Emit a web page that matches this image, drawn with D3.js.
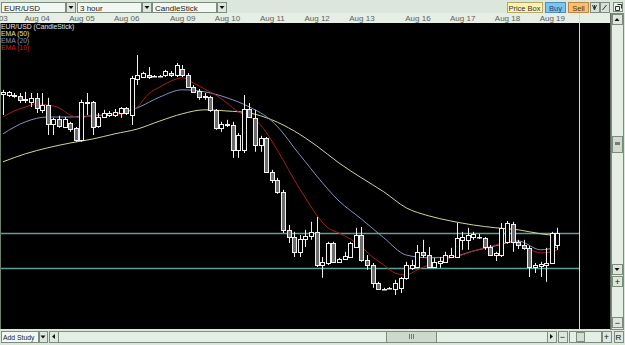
<!DOCTYPE html>
<html>
<head>
<meta charset="utf-8">
<script src="https://cdn.jsdelivr.net/npm/d3@7"></script>
<style>
  body { margin: 0; background: #dce7dc; }
  svg { display: block; font-family: "Liberation Sans", Arial, sans-serif; }
</style>
</head>
<body>
<div id="chart"></div>
<script>
// Day labels and the bar index where each day starts (3 hour bars)
const dayLabels = ['Aug 03', 'Aug 04', 'Aug 05', 'Aug 06', 'Aug 09', 'Aug 10', 'Aug 11', 'Aug 12', 'Aug 13', 'Aug 16', 'Aug 17', 'Aug 18', 'Aug 19'];
const dayStart = [-1.5, 6, 14, 22, 32, 40, 48, 56, 64, 74, 82, 90, 98];

// EUR/USD candles
const candleOpen = [
  1.3248, 1.3245, 1.3245, 1.3243, 1.3233, 1.3228, 1.3238, 1.3208, 1.3220, 1.3173,
  1.3185, 1.3165, 1.3175, 1.3163, 1.3133, 1.3228, 1.3228, 1.3168, 1.3190, 1.3195,
  1.3195, 1.3200, 1.3213, 1.3195, 1.3285, 1.3290, 1.3295, 1.3293, 1.3293, 1.3295,
  1.3300, 1.3295, 1.3310, 1.3295, 1.3265, 1.3255, 1.3243, 1.3240, 1.3208, 1.3163,
  1.3173, 1.3170, 1.3108, 1.3108, 1.3210, 1.3188, 1.3120, 1.3138, 1.3053, 1.3033,
  1.3003, 1.2908, 1.2890, 1.2853, 1.2885, 1.2893, 1.2903, 1.2820, 1.2825, 1.2875,
  1.2828, 1.2835, 1.2840, 1.2865, 1.2895, 1.2833, 1.2820, 1.2775, 1.2760, 1.2763,
  1.2760, 1.2763, 1.2788, 1.2813, 1.2815, 1.2853, 1.2845, 1.2815, 1.2825, 1.2828,
  1.2840, 1.2840, 1.2883, 1.2883, 1.2890, 1.2890, 1.2888, 1.2865, 1.2845, 1.2845,
  1.2878, 1.2923, 1.2878, 1.2870, 1.2863, 1.2815, 1.2818, 1.2820, 1.2825, 1.2870
];
const candleHigh = [
  1.3258, 1.3255, 1.3250, 1.3250, 1.3253, 1.3250, 1.3250, 1.3250, 1.3238, 1.3188,
  1.3193, 1.3190, 1.3178, 1.3165, 1.3233, 1.3250, 1.3230, 1.3200, 1.3208, 1.3205,
  1.3210, 1.3215, 1.3215, 1.3293, 1.3345, 1.3303, 1.3315, 1.3295, 1.3295, 1.3308,
  1.3305, 1.3325, 1.3320, 1.3300, 1.3270, 1.3260, 1.3250, 1.3243, 1.3210, 1.3178,
  1.3183, 1.3178, 1.3150, 1.3245, 1.3225, 1.3208, 1.3143, 1.3140, 1.3058, 1.3038,
  1.3008, 1.2920, 1.2903, 1.2895, 1.2908, 1.2928, 1.2940, 1.2840, 1.2878, 1.2878,
  1.2838, 1.2853, 1.2878, 1.2913, 1.2915, 1.2845, 1.2825, 1.2778, 1.2763, 1.2765,
  1.2783, 1.2790, 1.2828, 1.2833, 1.2870, 1.2883, 1.2865, 1.2838, 1.2840, 1.2853,
  1.2863, 1.2925, 1.2903, 1.2913, 1.2903, 1.2898, 1.2890, 1.2870, 1.2853, 1.2925,
  1.2930, 1.2928, 1.2883, 1.2883, 1.2868, 1.2825, 1.2828, 1.2863, 1.2903, 1.2913
];
const candleLow = [
  1.3195, 1.3240, 1.3238, 1.3225, 1.3225, 1.3215, 1.3200, 1.3200, 1.3145, 1.3145,
  1.3163, 1.3163, 1.3153, 1.3128, 1.3128, 1.3195, 1.3145, 1.3163, 1.3188, 1.3190,
  1.3190, 1.3188, 1.3195, 1.3170, 1.3270, 1.3288, 1.3285, 1.3290, 1.3290, 1.3290,
  1.3290, 1.3290, 1.3290, 1.3263, 1.3250, 1.3233, 1.3233, 1.3203, 1.3158, 1.3153,
  1.3165, 1.3088, 1.3088, 1.3100, 1.3188, 1.3103, 1.3103, 1.3050, 1.3025, 1.2998,
  1.2900, 1.2875, 1.2840, 1.2840, 1.2865, 1.2883, 1.2815, 1.2788, 1.2820, 1.2825,
  1.2825, 1.2833, 1.2838, 1.2863, 1.2828, 1.2808, 1.2763, 1.2758, 1.2758, 1.2760,
  1.2745, 1.2750, 1.2783, 1.2808, 1.2813, 1.2838, 1.2813, 1.2813, 1.2813, 1.2825,
  1.2838, 1.2838, 1.2858, 1.2858, 1.2883, 1.2885, 1.2858, 1.2843, 1.2830, 1.2840,
  1.2873, 1.2853, 1.2860, 1.2858, 1.2790, 1.2800, 1.2790, 1.2778, 1.2823, 1.2858
];
const candleClose = [
  1.3253, 1.3253, 1.3243, 1.3233, 1.3235, 1.3238, 1.3213, 1.3220, 1.3173, 1.3185,
  1.3168, 1.3185, 1.3160, 1.3133, 1.3228, 1.3225, 1.3165, 1.3190, 1.3200, 1.3200,
  1.3203, 1.3213, 1.3200, 1.3288, 1.3295, 1.3300, 1.3290, 1.3293, 1.3293, 1.3305,
  1.3295, 1.3320, 1.3295, 1.3265, 1.3253, 1.3240, 1.3240, 1.3208, 1.3163, 1.3173,
  1.3170, 1.3108, 1.3145, 1.3210, 1.3190, 1.3120, 1.3138, 1.3053, 1.3033, 1.3003,
  1.2908, 1.2890, 1.2853, 1.2885, 1.2893, 1.2903, 1.2820, 1.2828, 1.2875, 1.2828,
  1.2835, 1.2843, 1.2875, 1.2895, 1.2833, 1.2820, 1.2775, 1.2760, 1.2760, 1.2763,
  1.2775, 1.2788, 1.2820, 1.2820, 1.2853, 1.2845, 1.2815, 1.2828, 1.2830, 1.2845,
  1.2845, 1.2888, 1.2890, 1.2895, 1.2898, 1.2890, 1.2865, 1.2845, 1.2850, 1.2913,
  1.2925, 1.2878, 1.2870, 1.2863, 1.2815, 1.2820, 1.2823, 1.2825, 1.2900, 1.2900
];

// Moving averages as drawn on the chart (bar index + value)
const ema50Bar = [0, 4, 8, 12, 16, 20, 24, 28, 32, 36, 40, 44, 48, 52, 56, 60, 64, 68, 72, 76, 80, 84, 88, 92, 96, 99];
const ema50 = [1.3078, 1.3098, 1.3113, 1.3125, 1.3135, 1.3148, 1.3160, 1.3180, 1.3198, 1.3208, 1.3205, 1.3200, 1.3183,
  1.3155, 1.3118, 1.3075, 1.3038, 1.3003, 1.2963, 1.2943, 1.2930, 1.2920, 1.2913, 1.2908, 1.2898, 1.2893];

const ema20Bar = [0, 4, 8, 12, 16, 20, 24, 28, 32, 36, 40, 44, 48, 50, 52, 54, 56, 60, 64, 68, 72, 76, 80, 84, 88, 92, 96, 99];
const ema20 = [1.3148, 1.3178, 1.3190, 1.3190, 1.3193, 1.3198, 1.3213, 1.3240, 1.3258, 1.3253, 1.3238, 1.3215, 1.3180, 1.3150,
  1.3113, 1.3078, 1.3043, 1.2980, 1.2935, 1.2888, 1.2845, 1.2838, 1.2840, 1.2855, 1.2868, 1.2880, 1.2858, 1.2865];

const ema10Bar = [0, 2, 4, 6, 8, 10, 12, 14, 16, 18, 20, 22, 24, 26, 28, 30, 32, 34, 36, 38, 40, 42, 44, 46, 48, 50,
  52, 54, 56, 58, 60, 62, 64, 66, 68, 70, 72, 74, 76, 78, 80, 82, 84, 86, 88, 90, 92, 94, 96, 98, 99];
const ema10 = [1.3190, 1.3205, 1.3215, 1.3223, 1.3220, 1.3213, 1.3195, 1.3188, 1.3195, 1.3195, 1.3195, 1.3200, 1.3215,
  1.3248, 1.3265, 1.3280, 1.3288, 1.3275, 1.3260, 1.3245, 1.3225, 1.3203, 1.3190, 1.3170, 1.3130, 1.3083, 1.3033,
  1.2988, 1.2945, 1.2913, 1.2900, 1.2885, 1.2865, 1.2840, 1.2820, 1.2800, 1.2795, 1.2808, 1.2820, 1.2828, 1.2838,
  1.2845, 1.2855, 1.2863, 1.2870, 1.2878, 1.2873, 1.2860, 1.2850, 1.2853, 1.2858];

// Horizontal levels drawn by the user
const levels = [1.2900, 1.2813];

const legendItems = ['EUR/USD (CandleStick)', 'EMA (50)', 'EMA (20)', 'EMA (10)'];
const legendColors = ['#e4e4e4', '#e6e2a0', '#8296c8', '#c42424'];


class CandleChart {

  constructor(_config, _data) {
    this.config = {
      parentElement: _config.parentElement,
      containerWidth: _config.containerWidth || 625,
      containerHeight: _config.containerHeight || 345,
      plotRight: 579,
      plotTop: 23,
      plotBottom: 329
    };
    this.data = _data;
    this.initVis();
  }

  initVis() {
    let vis = this;

    vis.svg = d3.select(vis.config.parentElement).append('svg')
        .attr('width', vis.config.containerWidth)
        .attr('height', vis.config.containerHeight);

    // Bars are evenly spaced, one per 3 hours, weekends collapsed
    vis.xScale = d3.scaleLinear().domain([0, 99]).range([3, 557.4]);
    vis.yScale = d3.scaleLinear().domain([1.2900, 1.3400]).range([233, 33]);

    vis.drawChrome();
    vis.renderVis();
  }

  drawChrome() {
    let vis = this;
    const svg = vis.svg;
    const stroke = '#7d8d7d';

    svg.append('rect').attr('width', 625).attr('height', 345).attr('fill', '#dce7dc');
    svg.append('rect').attr('x', 0).attr('y', 13).attr('width', 611).attr('height', 10).attr('fill', '#e6eee6');
    svg.append('rect').attr('x', 0).attr('y', vis.config.plotTop).attr('width', 611)
        .attr('height', vis.config.plotBottom - vis.config.plotTop).attr('fill', '#000');
    svg.append('line').attr('x1', 0.5).attr('x2', 0.5).attr('y1', 23).attr('y2', 329).attr('stroke', '#6f7f6f');
    svg.append('line').attr('x1', 610.5).attr('x2', 610.5).attr('y1', 13).attr('y2', 330).attr('stroke', '#5f6f5f');

    const btn = (x, y, w, h, fill, lineColor) => svg.append('rect')
        .attr('x', x + 0.5).attr('y', y + 0.5).attr('width', w).attr('height', h)
        .attr('fill', fill).attr('stroke', lineColor || stroke);
    const label = (x, y, txt, size, color, anchor) => svg.append('text')
        .attr('x', x).attr('y', y).attr('font-size', size || 8).attr('fill', color || '#222')
        .attr('text-anchor', anchor || 'start').text(txt);
    const down = (x, y) => svg.append('path').attr('d', `M${x},${y}h5l-2.5,3z`).attr('fill', '#111');

    // Top toolbar: dropdowns
    [[1, 64, 'EUR/USD'], [77, 64, '3 hour'], [152, 64, 'CandleStick']].forEach(d => {
      btn(d[0], 2, d[1], 10, '#f3f7f3');
      label(d[0] + 3, 10.5, d[2]);
      btn(d[0] + d[1] + 1, 2, 9, 10, '#dde6dd');
      down(d[0] + d[1] + 3.5, 6);
    });

    // Top toolbar: trade buttons
    btn(507, 2, 35, 10, '#fcf3b0', '#b4aa66');
    label(524.5, 10.5, 'Price Box', 7.5, '#333', 'middle');
    btn(545, 2, 20, 10, '#7cc3ee', '#4b8fbf');
    label(555.5, 10.5, 'Buy', 7.5, '#24436a', 'middle');
    btn(568, 2, 20, 10, '#fbbf6e', '#c3863a');
    label(578.5, 10.5, 'Sell', 7.5, '#5a3410', 'middle');
    btn(590, 2, 9, 10, '#d6e0d6');
    svg.append('path').attr('d', 'M592.5,5 l2,5 l2,-5 M594.5,5 v5').attr('stroke', '#333').attr('fill', 'none');
    btn(600, 2, 9, 10, '#d6e0d6');
    svg.append('path').attr('d', 'M602.5,10 l4,-5').attr('stroke', '#333').attr('fill', 'none');
    btn(613, 2, 9, 9, '#e8f0e8');
    svg.append('path').attr('d', 'M615.5,6.5 h4 v4 h-4z M617.5,4.5 h4 v4').attr('stroke', '#333').attr('fill', 'none');

    // Right scrollbar
    btn(611, 13, 12, 316, '#e4eee4');
    btn(612, 14, 10, 10, '#dde7dd');
    svg.append('path').attr('d', 'M614.5,21 h5 l-2.5,-3z').attr('fill', '#111');
    btn(612, 136, 10, 16, '#cfdbcf');
    svg.append('rect').attr('x', 615).attr('y', 142).attr('width', 5).attr('height', 3).attr('fill', '#7a7a7a');
    btn(612, 264, 10, 10, '#dde7dd');
    down(614.5, 268);
    btn(612, 276, 10, 10, '#dde7dd');
    label(617.5, 284.5, '+', 9, '#111', 'middle');
    btn(612, 317, 10, 10, '#dde7dd');
    label(617.5, 325.5, '−', 9, '#111', 'middle');

    // Bottom bar
    btn(1, 331, 37, 11, '#f3f7f3');
    label(3, 339.5, 'Add Study', 6.8);
    btn(39, 331, 8, 11, '#dde6dd');
    down(40.5, 335.5);
    btn(49, 331, 507, 11, '#e4eee4');
    btn(49, 331, 9, 11, '#dde7dd');
    svg.append('path').attr('d', 'M55,334 v5 l-3,-2.5z').attr('fill', '#111');
    btn(386, 331, 50, 11, '#cdd9cd');
    svg.append('path').attr('d', 'M409.5,334 v5 M411.5,334 v5 M413.5,334 v5').attr('stroke', '#777');
    btn(547, 331, 9, 11, '#dde7dd');
    svg.append('path').attr('d', 'M550,334 v5 l3,-2.5z').attr('fill', '#111');
    btn(558, 331, 9, 11, '#dde7dd');
    label(562.5, 340, '−', 9, '#111', 'middle');
    btn(569, 331, 32, 11, '#e4eee4');
    btn(576, 332, 8, 9, '#d3ded3');
    btn(602, 331, 9, 11, '#dde7dd');
    label(606.5, 340, '+', 9, '#111', 'middle');
    btn(614, 331, 9, 11, '#dde7dd');
    label(618.5, 340, 'R', 8, '#111', 'middle');

    // Divider between candle area and empty price column
    svg.append('line').attr('x1', vis.config.plotRight + 0.5).attr('x2', vis.config.plotRight + 0.5)
        .attr('y1', 13).attr('y2', 329).attr('stroke', '#d6d6d6');
  }

  renderVis() {
    let vis = this;

    // Day labels along the top
    const dayAxis = d3.axisBottom(vis.xScale)
        .tickValues(dayStart)
        .tickFormat((d, i) => dayLabels[i])
        .tickSize(0)
        .tickPadding(2);
    const axisG = vis.svg.append('g').attr('transform', 'translate(0,13)').call(dayAxis);
    axisG.select('.domain').remove();
    axisG.selectAll('text').attr('font-size', 8).attr('fill', '#5a625a')
        .attr('font-family', '"Liberation Sans", Arial, sans-serif');

    const chart = vis.svg.append('g');
    chart.append('clipPath').attr('id', 'plot-clip').append('rect')
        .attr('x', 1).attr('y', vis.config.plotTop).attr('width', vis.config.plotRight - 1)
        .attr('height', vis.config.plotBottom - vis.config.plotTop);
    const plot = chart.append('g').attr('clip-path', 'url(#plot-clip)');

    // Horizontal level lines
    plot.selectAll('.level')
        .data(levels)
      .join('line')
        .attr('class', 'level')
        .attr('x1', 0).attr('x2', vis.config.plotRight)
        .attr('y1', d => Math.round(vis.yScale(d)) + 0.5)
        .attr('y2', d => Math.round(vis.yScale(d)) + 0.5)
        .attr('stroke', '#5f9f99')
        .attr('stroke-width', 1.3);

    // Moving averages
    const emaSeries = [
      { bars: ema50Bar, values: ema50, color: '#d4d397' },
      { bars: ema20Bar, values: ema20, color: '#8393c2' },
      { bars: ema10Bar, values: ema10, color: '#a81e1e' }
    ];
    const emaLine = d3.line()
        .x(d => vis.xScale(d[0]))
        .y(d => vis.yScale(d[1]))
        .curve(d3.curveMonotoneX);
    plot.selectAll('.ema')
        .data(emaSeries)
      .join('path')
        .attr('class', 'ema')
        .attr('d', d => emaLine(d.bars.map((b, i) => [b, d.values[i]])))
        .attr('fill', 'none')
        .attr('stroke', d => d.color)
        .attr('stroke-width', 1);

    // Candles: wick first, then the body on top
    const candle = plot.selectAll('.candle')
        .data(vis.data)
      .join('g')
        .attr('class', 'candle');

    candle.append('line')
        .attr('x1', d => Math.round(vis.xScale(d.i)) + 0.5)
        .attr('x2', d => Math.round(vis.xScale(d.i)) + 0.5)
        .attr('y1', d => vis.yScale(d.high))
        .attr('y2', d => vis.yScale(d.low))
        .attr('stroke', '#f0f0f0');

    candle.append('rect')
        .attr('x', d => Math.round(vis.xScale(d.i)) - 1.5)
        .attr('width', 4)
        .attr('y', d => Math.round(vis.yScale(Math.max(d.open, d.close))) + 0.5)
        .attr('height', d => Math.max(0.5, Math.round(Math.abs(vis.yScale(d.open) - vis.yScale(d.close)))))
        .attr('fill', d => d.close >= d.open ? '#000' : '#6c6c6c')
        .attr('stroke', '#f0f0f0');

    // Legend in the top left corner
    vis.svg.selectAll('.legend-label')
        .data(legendItems)
      .join('text')
        .attr('class', 'legend-label')
        .attr('x', 1)
        .attr('y', (d, i) => 29 + i * 7)
        .attr('font-size', 6.8)
        .attr('fill', (d, i) => legendColors[i])
        .text(d => d);
  }
}

const bars = candleOpen.map((o, i) => ({
  i: i, open: o, high: candleHigh[i], low: candleLow[i], close: candleClose[i]
}));

new CandleChart({ parentElement: '#chart' }, bars);
</script>
</body>
</html>
